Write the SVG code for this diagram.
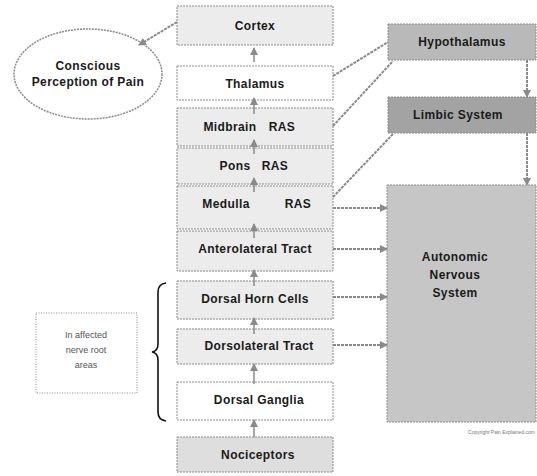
<svg xmlns="http://www.w3.org/2000/svg" width="537" height="476" viewBox="0 0 537 476">
<defs>
<style>
.box{stroke:#8a8a8a;stroke-width:1;stroke-dasharray:2 1}
.lt{fill:#ececec}
.wh{fill:#ffffff}
.nc{fill:#dedede}
.hy{fill:#b9b9b9}
.lb{fill:#a3a3a3}
.an{fill:#c6c6c6}
.t{font-family:"Liberation Sans",Arial,sans-serif;font-weight:bold;font-size:12px;fill:#1a1a1a;text-anchor:middle;letter-spacing:0.4px}
.s{font-family:"Liberation Sans",Arial,sans-serif;font-size:9px;fill:#555;text-anchor:middle}
.c{stroke:#8a8a8a;stroke-width:2;fill:none;stroke-dasharray:3 1}
.v{stroke:#8a8a8a;stroke-width:1.5;fill:none}
</style>
<marker id="ah" markerWidth="8" markerHeight="8" refX="7" refY="4" orient="auto" markerUnits="userSpaceOnUse">
<path d="M0,0 L8,4 L0,8 Z" fill="#8a8a8a"/>
</marker>
</defs>
<rect width="537" height="476" fill="#ffffff"/>

<g id="perception">
<ellipse cx="88" cy="74" rx="74" ry="45" fill="#ffffff" stroke="#8a8a8a" stroke-width="1.5" stroke-dasharray="2 1"/>
<text class="t" x="88" y="70">Conscious</text>
<text class="t" x="88" y="86">Perception of Pain</text>
</g>

<g id="cortex"><rect class="box lt" x="177" y="6" width="156" height="39"/><text class="t" x="255" y="30">Cortex</text></g>
<g id="thalamus"><rect class="box wh" x="177" y="66" width="156" height="34"/><text class="t" x="255" y="88">Thalamus</text></g>
<g id="midbrain"><rect class="box lt" x="177" y="108" width="156" height="38"/><text class="t" x="230" y="131">Midbrain</text><text class="t" x="282" y="131">RAS</text></g>
<g id="pons"><rect class="box lt" x="177" y="148" width="156" height="36"/><text class="t" x="235" y="170">Pons</text><text class="t" x="275" y="170">RAS</text></g>
<g id="medulla"><rect class="box lt" x="177" y="186" width="156" height="43"/><text class="t" x="226" y="208">Medulla</text><text class="t" x="298" y="208">RAS</text></g>
<g id="anterolateral"><rect class="box lt" x="177" y="231" width="156" height="40"/><text class="t" x="255" y="253">Anterolateral Tract</text></g>
<g id="dorsalhorn"><rect class="box lt" x="177" y="281" width="156" height="38"/><text class="t" x="255" y="303">Dorsal Horn Cells</text></g>
<g id="dorsolateral"><rect class="box lt" x="177" y="329" width="156" height="35"/><text class="t" x="259" y="350">Dorsolateral Tract</text></g>
<g id="dorsalganglia"><rect class="box wh" x="177" y="382" width="156" height="38"/><text class="t" x="259" y="404">Dorsal Ganglia</text></g>
<g id="nociceptors"><rect class="box nc" x="177" y="437" width="156" height="35"/><text class="t" x="258" y="459">Nociceptors</text></g>

<g id="hypothalamus"><rect class="box hy" x="388" y="24" width="148" height="36"/><text class="t" x="462" y="46">Hypothalamus</text></g>
<g id="limbic"><rect class="box lb" x="388" y="97" width="148" height="36"/><text class="t" x="458" y="119">Limbic System</text></g>
<g id="ans"><rect class="box an" x="387" y="185" width="149" height="237"/>
<text class="t" x="455" y="261">Autonomic</text><text class="t" x="455" y="279">Nervous</text><text class="t" x="455" y="297">System</text></g>

<g id="affected"><rect x="36" y="313" width="101" height="80" fill="#ffffff" stroke="#8a8a8a" stroke-width="1" stroke-dasharray="1 1.5"/>
<text class="s" x="86" y="338">In affected</text><text class="s" x="86" y="353">nerve root</text><text class="s" x="86" y="368">areas</text></g>

<g id="connectors">
<line class="c" x1="177" y1="22" x2="139" y2="45" marker-end="url(#ah)"/>
<line class="c" x1="333" y1="76" x2="388" y2="42"/>
<line class="c" x1="333" y1="126" x2="393" y2="61"/>
<line class="c" x1="333" y1="197" x2="393" y2="134"/>
<line class="c" x1="527" y1="60" x2="527" y2="97" marker-end="url(#ah)"/>
<line class="c" x1="527" y1="133" x2="527" y2="185" marker-end="url(#ah)"/>
<line class="c" x1="333" y1="208" x2="387" y2="208" marker-end="url(#ah)"/>
<line class="c" x1="333" y1="249" x2="387" y2="249" marker-end="url(#ah)"/>
<line class="c" x1="333" y1="297" x2="387" y2="297" marker-end="url(#ah)"/>
<line class="c" x1="333" y1="345" x2="387" y2="345" marker-end="url(#ah)"/>
<line class="v" x1="254" y1="62" x2="254" y2="48" marker-end="url(#ah)"/>
<line class="v" x1="254" y1="114" x2="254" y2="98" marker-end="url(#ah)"/>
<line class="v" x1="254" y1="154" x2="254" y2="140" marker-end="url(#ah)"/>
<line class="v" x1="254" y1="192" x2="254" y2="178" marker-end="url(#ah)"/>
<line class="v" x1="254" y1="238" x2="254" y2="224" marker-end="url(#ah)"/>
<line class="v" x1="254" y1="286" x2="254" y2="270" marker-end="url(#ah)"/>
<line class="v" x1="254" y1="334" x2="254" y2="318" marker-end="url(#ah)"/>
<line class="v" x1="254" y1="384" x2="254" y2="364" marker-end="url(#ah)"/>
<line class="v" x1="254" y1="437" x2="254" y2="420" marker-end="url(#ah)"/>
<path d="M166,283 Q158,284 158,292 L158,344 Q158,351 152,352 Q158,353 158,360 L158,412 Q158,420 166,421" fill="none" stroke="#111" stroke-width="1.6"/>
</g>

<text x="535" y="434" font-family="Liberation Sans,Arial,sans-serif" font-size="5" fill="#777" text-anchor="end">Copyright Pain Explained.com</text>
</svg>
